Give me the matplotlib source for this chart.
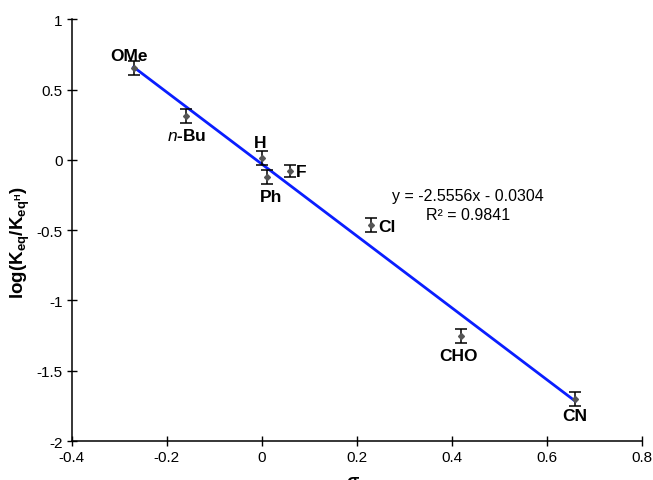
import numpy as np
import matplotlib.pyplot as plt

plt.rcParams['font.family'] = ['Liberation Sans', 'DejaVu Sans']
plt.rcParams['mathtext.fontset'] = 'custom'
plt.rcParams['mathtext.rm'] = 'Liberation Sans'
plt.rcParams['mathtext.bf'] = 'Liberation Sans:bold'
plt.rcParams['mathtext.it'] = 'Liberation Sans:italic'

# substituent, sigma_p, log(Keq/KeqH), error
names = ['OMe', '$\\mathbf{\\mathit{n}}$-Bu', 'H', 'Ph', 'F', 'Cl', 'CHO', 'CN']
sigma = [-0.27, -0.16, 0.0, 0.01, 0.06, 0.23, 0.42, 0.66]
logk = [0.65, 0.31, 0.01, -0.125, -0.08, -0.465, -1.25, -1.70]
err = [0.05, 0.05, 0.05, 0.05, 0.045, 0.05, 0.05, 0.05]
slope, intercept, r2 = -2.5556, -0.0304, 0.9841

# label anchors (x, y, ha)
lab_pos = [(-0.28, 0.745, 'center'), (-0.158, 0.175, 'center'), (-0.004, 0.12, 'center'),
           (0.019, -0.26, 'center'), (0.072, -0.08, 'left'), (0.245, -0.475, 'left'),
           (0.413, -1.39, 'center'), (0.658, -1.82, 'center')]

fig = plt.figure(figsize=(6.53, 4.81), dpi=100)
ax = fig.add_axes([0.110, 0.081, 0.873, 0.877])

xs = np.array([min(sigma), max(sigma)])
ax.plot(xs, slope * xs + intercept, color='#0a1eff', lw=2.0, zorder=2)
ax.errorbar(sigma, logk, yerr=err, fmt='D', ms=3, color='#333333', mfc='#555555', mec='#555555',
            ecolor='black', elinewidth=1.1, capsize=4, capthick=1.1, zorder=3)

for n, (lx, ly, ha) in zip(names, lab_pos):
    ax.text(lx, ly, n, ha=ha, va='center', fontsize=12.5, fontweight='bold')

ax.text(0.434, -0.255, 'y = -2.5556x - 0.0304', ha='center', va='center', fontsize=11.5)
ax.text(0.434, -0.39, 'R² = %.4f' % r2, ha='center', va='center', fontsize=11.5)

ax.set_xlim(-0.4, 0.8)
ax.set_ylim(-2, 1)
ax.set_xticks(np.arange(-0.4, 0.81, 0.2))
ax.set_xticklabels(['-0.4', '-0.2', '0', '0.2', '0.4', '0.6', '0.8'])
ax.set_yticks(np.arange(-2, 1.01, 0.5))
ax.set_yticklabels(['-2', '-1.5', '-1', '-0.5', '0', '0.5', '1'])
ax.tick_params(direction='inout', length=7, width=1, labelsize=11, pad=3)
for s in ['top', 'right']:
    ax.spines[s].set_visible(False)
for s in ['left', 'bottom']:
    ax.spines[s].set_linewidth(1.1)

fig.text(20 / 653, 1 - 243 / 481, '$\\mathbf{log(K_{eq}/K_{eq^{H}})}$', rotation=90,
         ha='center', va='center', fontsize=13.5)
fig.text(352 / 653, 1 - 474 / 481, 'σ', ha='center', va='top', fontsize=13, fontweight='bold')

plt.savefig('out.png', dpi=100)
